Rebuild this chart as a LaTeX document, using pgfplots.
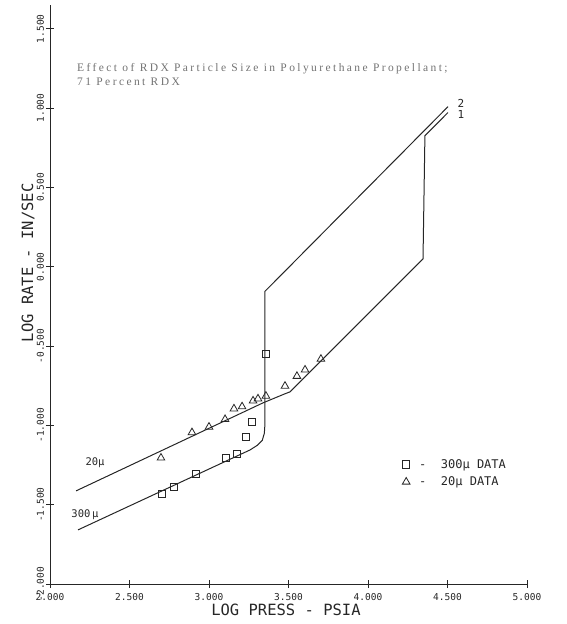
\documentclass[border=0pt]{standalone}
\usepackage{pgfplots}
\pgfplotsset{compat=1.18}
\usepackage{fontspec}
\setmainfont{Liberation Serif}
\newfontfamily\plotfont{DejaVu Sans Mono}
\newfontfamily\titlefont[LetterSpace=21]{Liberation Serif}
\definecolor{ink}{gray}{0.15}
\definecolor{titlegray}{gray}{0.45}

\begin{document}
\begin{tikzpicture}
\begin{axis}[
  at={(0,0)}, anchor=south west,
  scale only axis,
  width=477pt, height=579pt,
  xmin=2, xmax=5, ymin=-2, ymax=1.65,
  axis x line=bottom, axis y line=left,
  axis line style={ink, line width=0.9pt, -},
  clip=false,
  xtick={2,2.5,3,3.5,4,4.5,5},
  xticklabels={2.000,2.500,3.000,3.500,4.000,4.500,5.000},
  ytick={-2,-1.5,-1,-0.5,0,0.5,1,1.5},
  yticklabels={-2.000,-1.500,-1.000,-0.500,0.000,0.500,1.000,1.500},
  tick align=center,
  major tick length=8pt,
  tick style={ink, line width=0.9pt},
  ticklabel style={font=\plotfont\fontsize{9.5}{10}\selectfont, text=ink},
  xticklabel style={anchor=north, inner sep=0pt, yshift=-5pt},
  yticklabel style={rotate=90, anchor=south, inner sep=0pt, outer sep=2pt},
  legend style={at={(axis cs:4.215,-1.20)}, anchor=north west, draw=none, fill=none,
    font=\plotfont\fontsize{12}{13}\selectfont, text=ink, inner sep=0pt,
    row sep=3pt, legend cell align=left},
  legend image code/.code={\draw[#1] plot coordinates {(0.2cm,0cm)};},
]
% 300 micron curve (2)
\addplot[ink, line width=1pt, forget plot] coordinates {
  (2.176,-1.659) (3.258,-1.155) (3.305,-1.125) (3.335,-1.095) (3.348,-1.050)
  (3.352,-0.990) (3.352,-0.155) (4.503,1.009)
};
% 20 micron curve (1)
\addplot[ink, line width=1pt, forget plot] coordinates {
  (2.164,-1.413) (3.340,-0.858) (3.480,-0.800) (3.509,-0.789) (4.346,0.050)
  (4.358,0.826) (4.503,0.972)
};
% 300 micron data
\addplot[only marks, mark=square, mark size=3.7pt, mark options={ink, line width=0.8pt, fill=none}] coordinates {
  (3.358,-0.549) (3.270,-0.978) (3.233,-1.073) (3.176,-1.180) (3.107,-1.205)
  (2.918,-1.306) (2.780,-1.388) (2.704,-1.432)
};
\addlegendentry{\ -\ \ 300\textmu\ DATA}
% 20 micron data
\addplot[only marks, mark=triangle, mark size=4.4pt, mark options={ink, line width=0.8pt, fill=none}] coordinates {
  (2.698,-1.205) (2.893,-1.045) (3.000,-1.010) (3.101,-0.962) (3.157,-0.895)
  (3.208,-0.882) (3.277,-0.845) (3.308,-0.832) (3.358,-0.815) (3.478,-0.752)
  (3.553,-0.690) (3.604,-0.650) (3.704,-0.582)
};
\addlegendentry{\ -\ \ 20\textmu\ DATA}
% annotations
\node[font=\plotfont\fontsize{11}{11}\selectfont, text=ink, inner sep=0pt] at (axis cs:4.585,1.030) {2};
\node[font=\plotfont\fontsize{11}{11}\selectfont, text=ink, inner sep=0pt] at (axis cs:4.585,0.962) {1};
\node[font=\plotfont\fontsize{10.5}{11}\selectfont, text=ink] at (axis cs:2.283,-1.237) {20\textmu};
\node[font=\plotfont\fontsize{10.5}{11}\selectfont, text=ink] at (axis cs:2.220,-1.565) {300\,\textmu};
\node[font=\titlefont\fontsize{11.5}{14}\selectfont, text=titlegray, anchor=base west, inner sep=0pt, align=left]
  at (axis cs:2.170,1.142) {Effect of RDX Particle Size in Polyurethane Propellant;\\71 Percent RDX};
\node[font=\plotfont\fontsize{15.5}{16}\selectfont, text=ink] at (axis cs:3.484,-2.164) {LOG PRESS - PSIA};
\node[font=\plotfont\fontsize{15.5}{16}\selectfont, text=ink, rotate=90] at (axis cs:1.862,0.025) {LOG RATE - IN/SEC};
\end{axis}
\path[use as bounding box] (-50pt,-40pt) rectangle (516pt,584pt);
\end{tikzpicture}
\end{document}
